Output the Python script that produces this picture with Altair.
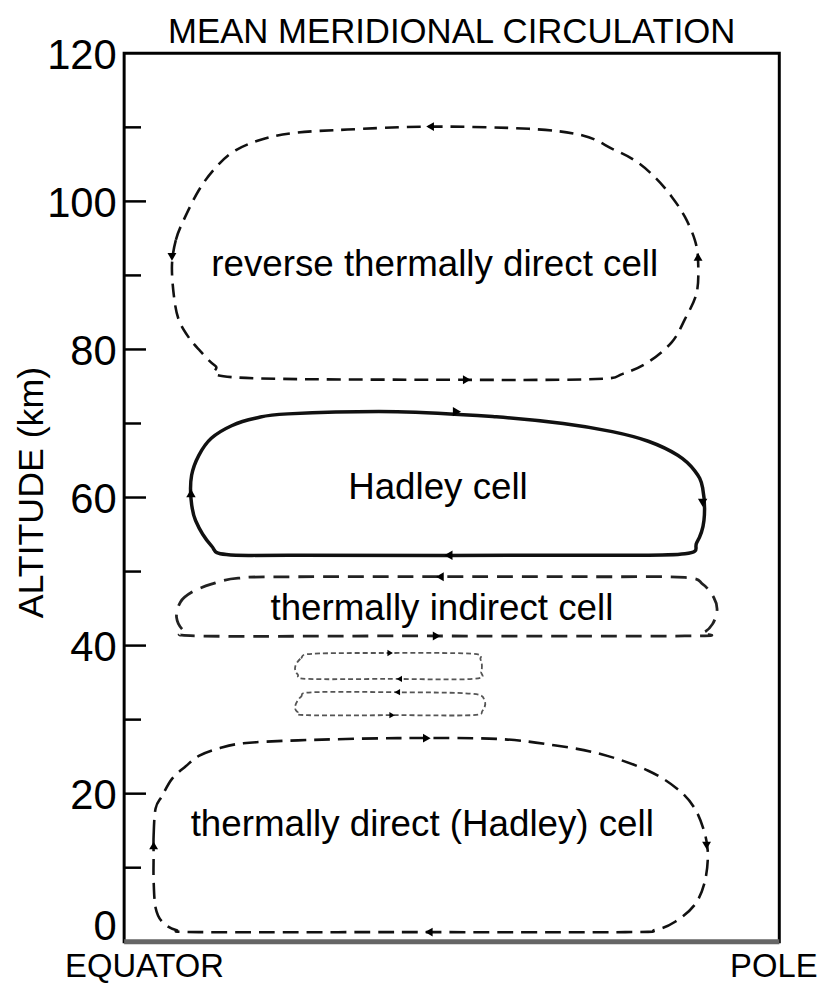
import altair as alt
import pandas as pd

FONT = "Liberation Sans, Arial, Helvetica, sans-serif"

TITLE = "MEAN MERIDIONAL CIRCULATION"

# ---- cell outlines: f = fraction of the way from equator (0) to pole (1), km = altitude
rev_f = [0.073, 0.079, 0.091, 0.114, 0.139, 0.170, 0.215, 0.265, 0.341, 0.467, 0.618, 0.700,
         0.745, 0.780, 0.811, 0.836, 0.856, 0.871, 0.876, 0.874, 0.856, 0.836, 0.800, 0.761,
         0.720, 0.515, 0.174, 0.139, 0.114, 0.098, 0.083, 0.076]
rev_km = [91.4, 94.8, 97.5, 101.5, 104.5, 106.9, 108.5, 109.3, 109.7, 110.1, 109.8, 108.9,
          107.1, 105.5, 103.2, 100.6, 97.9, 94.8, 92.1, 87.7, 84.1, 81.0, 78.3, 76.7,
          76.0, 75.9, 76.2, 77.8, 80.0, 81.7, 84.1, 87.2]

had_f = [0.102, 0.103, 0.114, 0.133, 0.164, 0.200, 0.250, 0.417, 0.568, 0.670, 0.745, 0.800,
         0.845, 0.871, 0.883, 0.885, 0.874, 0.856, 0.720, 0.265, 0.156, 0.133, 0.109]
had_km = [59.9, 63.0, 65.7, 68.0, 69.7, 70.7, 71.3, 71.6, 70.9, 70.0, 68.9, 67.6,
          65.7, 63.6, 61.3, 56.9, 53.9, 52.4, 52.2, 52.2, 52.3, 53.5, 56.9]

ind_f = [0.080, 0.086, 0.103, 0.133, 0.174, 0.265, 0.720, 0.856, 0.883, 0.900, 0.905, 0.898,
         0.883, 0.856, 0.417, 0.114, 0.091]
ind_km = [43.8, 45.9, 47.2, 48.3, 49.1, 49.3, 49.3, 49.2, 48.3, 46.5, 44.8, 42.9,
          41.7, 41.3, 41.3, 41.3, 42.0]

sa_f = [0.261, 0.270, 0.288, 0.402, 0.530, 0.544, 0.545, 0.533, 0.402, 0.280, 0.265]
sa_km = [37.1, 38.3, 38.9, 39.0, 38.9, 38.1, 36.5, 35.5, 35.5, 35.5, 36.1]

sb_f = [0.261, 0.270, 0.288, 0.417, 0.530, 0.550, 0.547, 0.530, 0.417, 0.280, 0.265]
sb_km = [31.8, 33.1, 33.7, 33.7, 33.5, 32.6, 31.2, 30.6, 30.6, 30.6, 31.0]

dir_f = [0.045, 0.045, 0.048, 0.058, 0.073, 0.094, 0.114, 0.144, 0.182, 0.265, 0.417, 0.568,
         0.659, 0.730, 0.800, 0.845, 0.871, 0.886, 0.891, 0.886, 0.871, 0.841, 0.811, 0.765,
         0.417, 0.114, 0.079, 0.058, 0.048, 0.045]
dir_km = [11.7, 14.3, 18.0, 19.7, 22.0, 23.7, 25.1, 26.1, 26.8, 27.2, 27.5, 27.4,
          26.5, 25.3, 23.1, 20.6, 18.0, 14.7, 11.7, 8.0, 5.0, 2.7, 1.6, 1.3,
          1.3, 1.3, 1.6, 2.7, 4.6, 8.3]

# ---- arrowheads
arr_f = [0.467, 0.523, 0.073, 0.876,
         0.508, 0.495, 0.102, 0.883,
         0.482, 0.477,
         0.406, 0.420,
         0.417, 0.409,
         0.462, 0.465, 0.045, 0.889]
arr_km = [110.1, 75.9, 92.5, 92.5,
          71.6, 52.2, 60.6, 59.3,
          49.3, 41.3,
          39.0, 35.5,
          33.7, 30.6,
          27.5, 1.3, 13.0, 13.0]
arr_shape = ["triangle-left", "triangle-right", "triangle-down", "triangle-up",
             "triangle-right", "triangle-left", "triangle-up", "triangle-down",
             "triangle-left", "triangle-right",
             "triangle-right", "triangle-left",
             "triangle-left", "triangle-right",
             "triangle-right", "triangle-left", "triangle-up", "triangle-down"]
arr_size = [80, 80, 80, 80, 90, 90, 90, 90, 80, 80, 40, 40, 40, 40, 80, 80, 80, 80]

# ---- cell labels
lab_f = [0.474, 0.479, 0.485, 0.455]
lab_km = [91.4, 61.3, 44.9, 15.7]
lab_text = ["reverse thermally direct cell", "Hadley cell",
            "thermally indirect cell", "thermally direct (Hadley) cell"]

# ---- axis
y_labels = [0, 20, 40, 60, 80, 100, 120]
major_ticks = [20, 40, 60, 80, 100]
minor_ticks = [10, 30, 50, 70, 90, 110]


def outline(fs, kms):
    return pd.DataFrame({"order": list(range(len(fs))), "f": fs, "km": kms})


X = alt.X("f:Q", scale=alt.Scale(domain=[0, 1], nice=False),
          axis=alt.Axis(values=[0, 1],
                        labelExpr="datum.value == 0 ? 'EQUATOR' : 'POLE'",
                        ticks=False, domain=False, grid=False, title=None,
                        labelFontSize=33, labelFont=FONT, labelColor="black",
                        labelPadding=9,
                        labelAlign={"condition": {"test": "datum.value == 0", "value": "left"},
                                    "value": "right"},
                        labelOffset={"condition": {"test": "datum.value == 0", "value": -60},
                                     "value": 38}))
Y = alt.Y("km:Q", scale=alt.Scale(domain=[0, 120], nice=False),
          axis=alt.Axis(values=y_labels, ticks=False, domain=False, grid=False,
                        labelFontSize=42, labelFont=FONT, labelColor="black",
                        labelPadding=8,
                        labelOffset={"condition": {"test": "datum.value == 0", "value": -15},
                                     "value": 2},
                        title="ALTITUDE (km)", titleFontSize=36, titleFont=FONT,
                        titleFontWeight="normal", titleColor="black",
                        titleAngle=270, titleX=-93, titleY=442,
                        titleAlign="center", titleBaseline="middle"))


def cell_line(fs, kms, **style):
    return alt.Chart(outline(fs, kms)).mark_line(
        interpolate="cardinal-closed", **style
    ).encode(x=X, y=Y, order="order:Q")


layers = [
    cell_line(rev_f, rev_km, color="#111", strokeWidth=2.6, strokeDash=[14, 8]),
    cell_line(had_f, had_km, color="#111", strokeWidth=3.5),
    cell_line(ind_f, ind_km, color="#222", strokeWidth=2.8, strokeDash=[16, 9]),
    cell_line(sa_f, sa_km, color="#555", strokeWidth=1.8, strokeDash=[5, 3]),
    cell_line(sb_f, sb_km, color="#555", strokeWidth=1.8, strokeDash=[5, 3]),
    cell_line(dir_f, dir_km, color="#111", strokeWidth=2.6, strokeDash=[16, 8]),
]

arrows = alt.Chart(pd.DataFrame({"f": arr_f, "km": arr_km, "shape": arr_shape,
                                 "size": arr_size})).mark_point(
    filled=True, color="black", opacity=1
).encode(x=X, y=Y, shape=alt.Shape("shape:N", scale=None),
         size=alt.Size("size:Q", scale=None))

labels = alt.Chart(pd.DataFrame({"f": lab_f, "km": lab_km, "label": lab_text})).mark_text(
    font=FONT, fontSize=37, color="black", align="center", baseline="middle"
).encode(x=X, y=Y, text="label:N")

title = alt.Chart(pd.DataFrame({"label": [TITLE]})).mark_text(
    font=FONT, fontSize=35, color="black", align="center", baseline="alphabetic"
).encode(text="label:N", x=alt.value(330), y=alt.value(-10))

tick_major = alt.Chart(pd.DataFrame({"km": major_ticks})).mark_rule(
    color="black", strokeWidth=2.5
).encode(y=Y, x=alt.value(0), x2=alt.value(22))
tick_minor = alt.Chart(pd.DataFrame({"km": minor_ticks})).mark_rule(
    color="black", strokeWidth=2.5
).encode(y=Y, x=alt.value(0), x2=alt.value(17))
ground = alt.Chart(pd.DataFrame({"km": [0]})).mark_rule(
    color="#666", strokeWidth=5
).encode(y=Y, x=alt.value(0), x2=alt.value(660))

chart = alt.layer(*layers, arrows, labels, title, tick_major, tick_minor, ground).properties(
    width=660, height=895,
    autosize=alt.AutoSizeParams(type="none"),
    padding={"left": 117, "top": 42, "right": 40, "bottom": 48},
).configure(
    background="white",
    view=alt.ViewConfig(stroke="black", strokeWidth=3),
)

chart.save("out.html", embed_options={"renderer": "svg", "actions": False})
